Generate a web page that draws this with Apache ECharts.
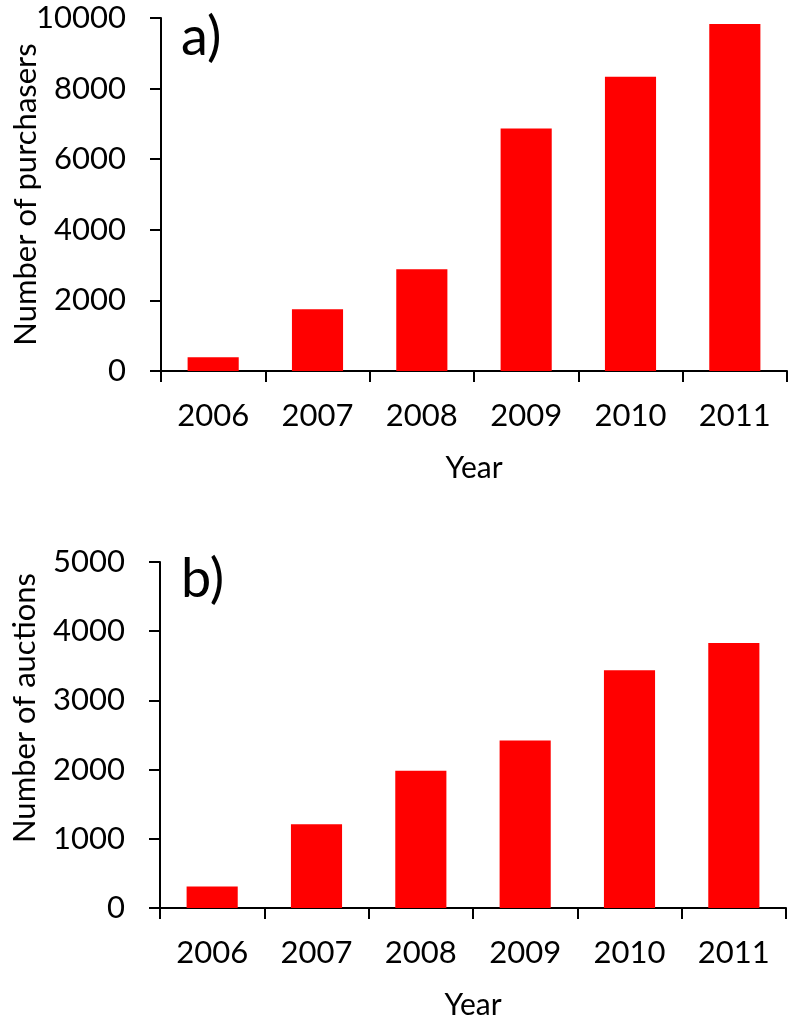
<!DOCTYPE html>
<html>
<head>
<meta charset="utf-8">
<script src="https://cdn.jsdelivr.net/npm/echarts@6/dist/echarts.min.js"></script>
<style>
html, body { margin: 0; padding: 0; background: #fff; }
#main { width: 796px; height: 1018px; }
</style>
</head>
<body>
<div id="main"></div>
<script>
// years on both x axes
var years = ['2006', '2007', '2008', '2009', '2010', '2011']
// a) purchasers per year
var purchasers = [390, 1750, 2880, 6870, 8335, 9830]
// b) auctions per year
var auctions = [310, 1210, 1985, 2420, 3435, 3830]

var font = 'Lato'
var black = '#000'

function xAxisFor(gridIndex) {
    return {
        type: 'category',
        gridIndex: gridIndex,
        data: years,
        name: 'Year',
        nameLocation: 'middle',
        nameGap: 82,
        nameMoveOverlap: false,
        nameTextStyle: { fontFamily: font, fontSize: 30, color: black },
        axisLine: { lineStyle: { color: black, width: 2 } },
        axisTick: { show: true, length: 11, lineStyle: { color: black, width: 2 } },
        axisLabel: { fontFamily: font, fontSize: 31, color: black, margin: 29 },
        splitLine: { show: false }
    }
}

function yAxisFor(gridIndex, max, interval, title, shift) {
    return {
        type: 'value',
        gridIndex: gridIndex,
        min: 0,
        max: max,
        interval: interval,
        name: title,
        nameLocation: 'middle',
        nameGap: 120,
        nameMoveOverlap: false,
        // left padding nudges the rotated title up along the axis
        nameTextStyle: { fontFamily: font, fontSize: 31, color: black, padding: [0, 0, 0, shift] },
        axisLine: { show: true, lineStyle: { color: black, width: 2 } },
        axisTick: { show: true, length: 11, lineStyle: { color: black, width: 2 } },
        axisLabel: {
            fontFamily: font, fontSize: 31, color: black, margin: 35,
            formatter: function (v) { return String(v) }
        },
        splitLine: { show: false }
    }
}

var chart = echarts.init(document.getElementById('main'))
chart.setOption({
    animation: false,
    backgroundColor: '#fff',
    title: [
        { text: 'a)', left: 176, top: 6, textStyle: { fontFamily: font, fontSize: 54, fontWeight: 'normal', color: black } },
        { text: 'b)', left: 176, top: 548, textStyle: { fontFamily: font, fontSize: 54, fontWeight: 'normal', color: black } }
    ],
    grid: [
        { left: 161, top: 18, width: 626, height: 353, outerBoundsMode: 'none', containLabel: false },
        { left: 160, top: 562, width: 626, height: 346, outerBoundsMode: 'none', containLabel: false }
    ],
    xAxis: [xAxisFor(0), xAxisFor(1)],
    yAxis: [
        yAxisFor(0, 10000, 2000, 'Number of purchasers', 0),
        yAxisFor(1, 5000, 1000, 'Number of auctions', 54)
    ],
    series: [
        { type: 'bar', xAxisIndex: 0, yAxisIndex: 0, data: purchasers, barWidth: '49%', itemStyle: { color: '#ff0000' } },
        { type: 'bar', xAxisIndex: 1, yAxisIndex: 1, data: auctions, barWidth: '49%', itemStyle: { color: '#ff0000' } }
    ]
})
</script>
</body>
</html>
